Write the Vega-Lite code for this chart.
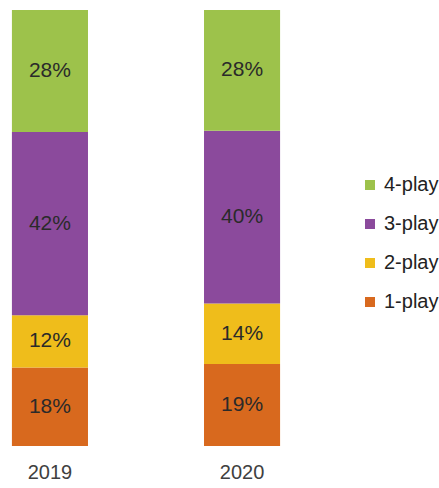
{
  "$schema": "https://vega.github.io/schema/vega-lite/v6.json",
  "width": 282,
  "height": 436,
  "padding": {"left": 5, "top": 10, "right": 0, "bottom": 0},
  "background": "white",
  "view": {"stroke": null},
  "data": {
    "values": [
      {"year": "2019", "type": "1-play", "v": 0.18},
      {"year": "2019", "type": "2-play", "v": 0.12},
      {"year": "2019", "type": "3-play", "v": 0.42},
      {"year": "2019", "type": "4-play", "v": 0.28},
      {"year": "2020", "type": "1-play", "v": 0.19},
      {"year": "2020", "type": "2-play", "v": 0.14},
      {"year": "2020", "type": "3-play", "v": 0.40},
      {"year": "2020", "type": "4-play", "v": 0.28}
    ]
  },
  "transform": [
    {"stack": "v", "groupby": ["year"], "sort": [{"field": "type", "order": "ascending"}], "offset": "normalize", "as": ["y0", "y1"]},
    {"calculate": "(datum.y0 + datum.y1) / 2", "as": "ym"}
  ],
  "encoding": {
    "x": {
      "field": "year", "type": "nominal",
      "scale": {"paddingInner": 0.604, "paddingOuter": 0.036},
      "axis": {"title": null, "labelAngle": 0, "domain": false, "ticks": false, "labelFontSize": 20, "labelFont": "Liberation Sans", "labelColor": "#404040", "labelPadding": 16}
    }
  },
  "layer": [
    {
      "mark": {"type": "bar"},
      "encoding": {
        "y": {"field": "y0", "type": "quantitative", "scale": {"domain": [0, 1], "nice": false}, "axis": null},
        "y2": {"field": "y1"},
        "color": {
          "field": "type", "type": "nominal",
          "scale": {"domain": ["4-play", "3-play", "2-play", "1-play"], "range": ["#9dc24b", "#8b4a9c", "#efbd1b", "#d8691e"]},
          "legend": {
            "title": null, "orient": "none", "legendX": 355, "legendY": 165,
            "symbolType": "square", "symbolSize": 100, "symbolStrokeWidth": 0,
            "labelFont": "Liberation Sans", "labelFontSize": 20, "labelColor": "#222222",
            "labelOffset": 4, "rowPadding": 19, "padding": 0
          }
        }
      }
    },
    {
      "mark": {"type": "text", "font": "Liberation Sans", "fontSize": 21, "color": "#2a2a2a", "baseline": "middle"},
      "encoding": {
        "y": {"field": "ym", "type": "quantitative", "scale": {"domain": [0, 1], "nice": false}, "axis": null},
        "text": {"field": "v", "type": "quantitative", "format": ".0%"}
      }
    }
  ]
}
